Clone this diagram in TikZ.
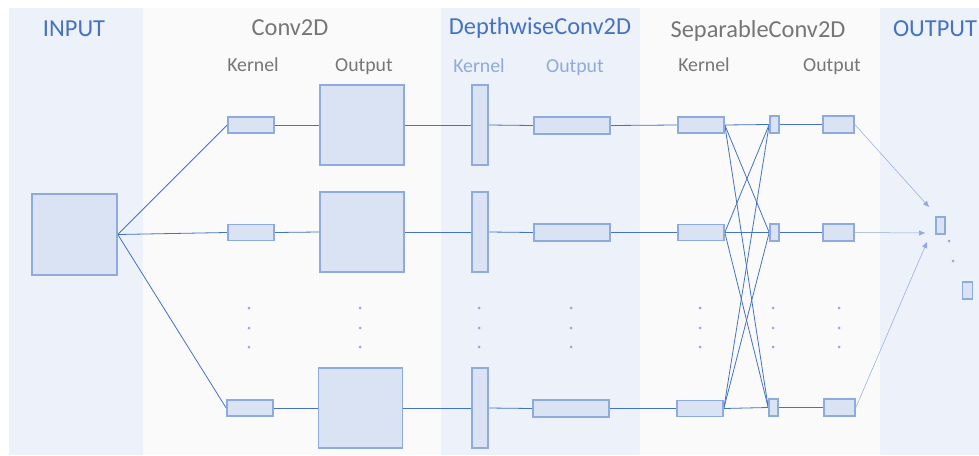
\documentclass[tikz,border=0pt]{standalone}
\usepackage{fontspec}
\setmainfont{Carlito}
\usetikzlibrary{arrows.meta}
\definecolor{bandblue}{HTML}{EDF1F9}
\definecolor{bandgrey}{HTML}{FAFAFA}
\definecolor{boxfill}{HTML}{DAE3F3}
\definecolor{boxline}{HTML}{8FAADC}
\definecolor{wire}{HTML}{4472C4}
\definecolor{headgrey}{HTML}{767676}
\tikzset{
  blk/.style={inner sep=0pt, outer sep=0.8pt, rectangle},
  blkdraw/.style={draw=boxline, fill=boxfill, line width=1.6pt},
  wirel/.style={draw=wire, line width=0.8pt},
  outarrow/.style={draw=boxline, line width=0.5pt, -{Triangle[length=6pt,width=5pt]}},
  headblue/.style={text=wire, anchor=base, font=\fontsize{24.4}{28}\selectfont},
  headgr/.style={text=headgrey, anchor=base, font=\fontsize{24.4}{28}\selectfont},
  sublab/.style={text=headgrey, anchor=base, font=\fontsize{19.8}{24}\selectfont},
  sublabblue/.style={text=boxline, anchor=base, font=\fontsize{19.8}{24}\selectfont},
  vdot/.style={fill=boxline, draw=none, circle, inner sep=0pt, minimum size=3pt}
}
% block placeholder: name, centre x, centre y, width, height
\newcommand\blkat[5]{\node[blk, minimum width=#4pt, minimum height=#5pt] (#1) at (#2,#3) {};}
\begin{document}
\begin{tikzpicture}[x=1pt,y=-1pt]
\useasboundingbox (0,0) rectangle (979,455);
\fill[white] (0,0) rectangle (979,455);
% column bands
\fill[bandblue] (9,8) rectangle (143,455);
\fill[bandgrey] (143,8) rectangle (441,455);
\fill[bandblue] (441,8) rectangle (640,455);
\fill[bandgrey] (640,8) rectangle (880,455);
\fill[bandblue] (880,8) rectangle (979,455);

% headings
\node[headblue] (hin) at (74,36) {INPUT};
\node[headgr] (hconv) at (290,35) {Conv2D};
\node[headblue] (hdw) at (540,34) {DepthwiseConv2D};
\node[headgr] (hsep) at (758,37) {SeparableConv2D};
\node[headblue] (hout) at (935,36) {OUTPUT};
\node[sublab] (lck) at (253,71) {Kernel};
\node[sublab] (lco) at (364,71) {Output};
\node[sublabblue] (ldk) at (479,72) {Kernel};
\node[sublabblue] (ldo) at (575,72) {Output};
\node[sublab] (lsk) at (704,71) {Kernel};
\node[sublab] (lso) at (832,71) {Output};

% block positions
\blkat{in}{74.5}{234.5}{85}{81}
\blkat{ck1}{251}{125}{46}{16}
\blkat{ck2}{251}{232.5}{46}{16}
\blkat{ck3}{250}{408}{46}{16}
\blkat{co1}{362}{125}{84}{80}
\blkat{co2}{362}{232}{84}{80}
\blkat{co3}{360.5}{408}{84}{80}
\blkat{dk1}{480}{125}{16}{80}
\blkat{dk2}{480}{232}{16}{80}
\blkat{dk3}{480}{408}{16}{80}
\blkat{do1}{572}{125.5}{76}{17}
\blkat{do2}{572}{232.5}{76}{17}
\blkat{do3}{571}{408.5}{76}{17}
\blkat{sk1}{701}{125}{46}{16}
\blkat{sk2}{701}{232.5}{46}{16}
\blkat{sk3}{700}{408.5}{46}{16}
\blkat{sp1}{774.5}{124.5}{9}{17}
\blkat{sp2}{774.5}{232.5}{9}{17}
\blkat{sp3}{773.5}{407.5}{9}{17}
\blkat{so1}{838.5}{124.5}{31}{17}
\blkat{so2}{838.5}{232.5}{31}{17}
\blkat{so3}{839.5}{407.5}{31}{17}
\blkat{ob1}{940.5}{225.5}{9}{17}
\blkat{ob2}{967.5}{290.5}{10}{17}

% arrow end points
\coordinate (a1) at (929,207);
\coordinate (a2) at (925,233);
\coordinate (a3) at (927,242);

% connectors
\foreach \i in {1,2,3}{
  \draw[wirel] (in.east) -- (ck\i.west);
  \draw[wirel] (ck\i.east) -- (co\i.west);
  \draw[wirel] (co\i.east) -- (dk\i.west);
  \draw[wirel] (dk\i.east) -- (do\i.west);
  \draw[wirel] (do\i.east) -- (sk\i.west);
  \draw[wirel] (sp\i.east) -- (so\i.west);
  \draw[outarrow] (so\i.east) -- (a\i);
  \foreach \j in {1,2,3}{
    \draw[wirel] (sk\i.east) -- (sp\j.west);
  }
}

% blocks drawn over the connector ends
\foreach \n in {in,ck1,ck2,ck3,co1,co2,co3,dk1,dk2,dk3,do1,do2,do3,sk1,sk2,sk3,sp1,sp2,sp3,so1,so2,so3,ob1,ob2}{
  \draw[blkdraw] ([shift={(0.8pt,0.8pt)}]\n.south west) rectangle ([shift={(-0.8pt,-0.8pt)}]\n.north east);
}

% vertical ellipses
\foreach \x in {249,360,479,571,700,773,839}{
  \foreach \y in {308,328,347}{
    \node[vdot] at (\x,\y) {};
  }
}
\node[vdot] (od1) at (949,241) {};
\node[vdot] (od2) at (953,261) {};
\end{tikzpicture}
\end{document}
